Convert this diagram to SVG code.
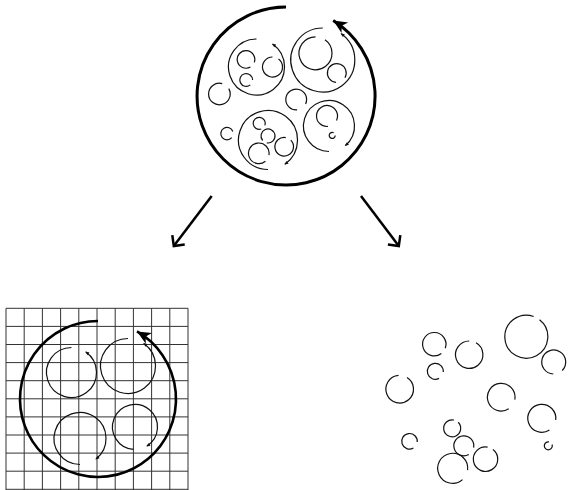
<svg xmlns="http://www.w3.org/2000/svg" width="572" height="490" viewBox="0 0 572 490">
<style>
.big{fill:none;stroke:#000;stroke-width:3}
.bigl{fill:none;stroke:#000;stroke-width:2.6}
.m{fill:none;stroke:#111;stroke-width:1.2}
.s{fill:none;stroke:#111;stroke-width:1.2}
.grid line{stroke:#333;stroke-width:1}
.conn{fill:none;stroke:#000;stroke-width:2.5}
</style>
<defs>
<marker id="ah" markerUnits="userSpaceOnUse" orient="auto" markerWidth="20" markerHeight="20" refX="0" refY="0" viewBox="-14 -8 16 16" overflow="visible">
<path d="M0,0 L-11,-5 L-8,0 L-11,5 Z" fill="#000"/>
</marker>
<marker id="ahs" markerUnits="userSpaceOnUse" orient="auto" markerWidth="6" markerHeight="6" refX="0" refY="0" viewBox="-3 -2 4 4" overflow="visible">
<path d="M0.5,0 L-2.2,-1.1 L-2.2,1.1 Z" fill="#111"/>
</marker>
<marker id="chev" markerUnits="userSpaceOnUse" orient="auto" markerWidth="20" markerHeight="20" refX="0" refY="0" viewBox="-10 -10 12 20" overflow="visible">
<path d="M-7.8,-7.8 L0,0 L-7.8,7.8" fill="none" stroke="#000" stroke-width="2.5"/>
</marker>
</defs>

<g id="source">
<path class="big" marker-end="url(#ah)" d="M286,7 A89,89 0 1 0 333.2,20.5"/>
<path class="m" marker-end="url(#ahs)" d="M256.5,39 A28,28 0 1 0 272.56,44.06"/>
<path class="m" marker-end="url(#ahs)" d="M322.8,28 A32,32 0 1 0 341.16,33.79"/>
<path class="m" marker-end="url(#ahs)" d="M268,169.5 A29.5,29.5 0 1 1 284.92,164.17"/>
<path class="m" marker-end="url(#ahs)" d="M329,151.5 A25.5,25.5 0 1 1 345.39,145.53"/>
<path class="s" d="M250.4,67.02 A8.8,8.8 0 1 1 254.27,62.41"/>
<path class="s" d="M272.5,57 A10,10 0 1 0 278.52,59.01"/>
<path class="s" d="M250.31,84.9 A6.4,6.4 0 1 1 252.6,80"/>
<path class="s" d="M315.5,36.8 A16.5,16.5 0 1 0 324.96,39.78"/>
<path class="s" d="M335.98,82.36 A9.4,9.4 0 1 1 344.94,77.7"/>
<path class="s" d="M261.25,128.94 A6,6 0 1 1 264.84,125.35"/>
<path class="s" d="M262.64,140.5 A7,7 0 1 1 266.78,142.89"/>
<path class="s" d="M265.42,161.19 A10.3,10.3 0 1 1 268.94,155.09"/>
<path class="s" d="M285.81,137.54 A9.3,9.3 0 1 0 290.78,140.12"/>
<path class="s" d="M327.92,126.46 A10.5,10.5 0 1 1 336.52,120.44"/>
<path class="s" d="M333.7,132.8 A3,3 0 1 0 335.2,135.4"/>
<path class="s" d="M222.2,83.57 A10.8,10.8 0 1 0 228.75,88.6"/>
<path class="s" d="M297.11,109.86 A10.4,10.4 0 1 1 305.63,103.9"/>
<path class="s" d="M231.75,137.59 A6.2,6.2 0 1 1 232.83,131.48"/>
</g>

<g id="grid-view">
<g class="grid">
<line x1="6" y1="308.3" x2="6" y2="490"/>
<line x1="24.2" y1="308.3" x2="24.2" y2="490"/>
<line x1="42.4" y1="308.3" x2="42.4" y2="490"/>
<line x1="60.6" y1="308.3" x2="60.6" y2="490"/>
<line x1="78.8" y1="308.3" x2="78.8" y2="490"/>
<line x1="97" y1="308.3" x2="97" y2="490"/>
<line x1="115.2" y1="308.3" x2="115.2" y2="490"/>
<line x1="133.4" y1="308.3" x2="133.4" y2="490"/>
<line x1="151.6" y1="308.3" x2="151.6" y2="490"/>
<line x1="169.8" y1="308.3" x2="169.8" y2="490"/>
<line x1="188" y1="308.3" x2="188" y2="490"/>
<line x1="6" y1="308.3" x2="188" y2="308.3"/>
<line x1="6" y1="326.4" x2="188" y2="326.4"/>
<line x1="6" y1="344.5" x2="188" y2="344.5"/>
<line x1="6" y1="362.6" x2="188" y2="362.6"/>
<line x1="6" y1="380.7" x2="188" y2="380.7"/>
<line x1="6" y1="398.8" x2="188" y2="398.8"/>
<line x1="6" y1="416.9" x2="188" y2="416.9"/>
<line x1="6" y1="435" x2="188" y2="435"/>
<line x1="6" y1="453.1" x2="188" y2="453.1"/>
<line x1="6" y1="471.2" x2="188" y2="471.2"/>
<line x1="6" y1="489.3" x2="188" y2="489.3"/>
</g>
<path class="bigl" marker-end="url(#ah)" d="M98,321 A78,78 0 1 0 137,331.45"/>
<path class="m" marker-end="url(#ahs)" d="M71.5,347.5 A25,25 0 1 0 85.84,352.02"/>
<path class="m" marker-end="url(#ahs)" d="M128,338.5 A27.5,27.5 0 1 0 143.77,343.47"/>
<path class="m" marker-end="url(#ahs)" d="M80,464.5 A26,26 0 1 1 96.01,458.99"/>
<path class="m" marker-end="url(#ahs)" d="M133.43,449.45 A22.5,22.5 0 1 1 146.92,446.08"/>
</g>

<g id="scatter-view">
<path class="s" d="M533.65,316.5 A21.5,21.5 0 1 0 539.54,319.76"/>
<path class="s" d="M553.28,373.99 A12,12 0 1 1 562.19,370.49"/>
<path class="s" d="M441.34,353.54 A11.7,11.7 0 1 1 445.29,348.2"/>
<path class="s" d="M469.2,341 A13.7,13.7 0 1 0 476.05,342.84"/>
<path class="s" d="M439.06,378.36 A8,8 0 1 1 443.27,372"/>
<path class="s" d="M398.5,375.45 A13.8,13.8 0 1 0 407.01,377.5"/>
<path class="s" d="M508.72,408.77 A13.8,13.8 0 1 1 514.79,399.6"/>
<path class="s" d="M549.42,430.04 A14,14 0 1 1 555.7,420.01"/>
<path class="s" d="M413.4,448.05 A7.8,7.8 0 1 1 417.27,441.98"/>
<path class="s" d="M453.97,419.99 A8.5,8.5 0 1 0 458.21,422.29"/>
<path class="s" d="M468.8,454.46 A10,10 0 1 1 473.65,447.54"/>
<path class="s" d="M487.62,447.19 A12.2,12.2 0 1 0 493.01,449.59"/>
<path class="s" d="M462.54,479.62 A15,15 0 1 1 467.59,470.13"/>
<path class="s" d="M549,441.86 A4,4 0 1 0 552.06,444.43"/>
</g>

<g id="connectors">
<path class="conn" marker-end="url(#chev)" d="M211.7,196 L173.8,246"/>
<path class="conn" marker-end="url(#chev)" d="M361,196 L398.8,246"/>
</g>
</svg>
